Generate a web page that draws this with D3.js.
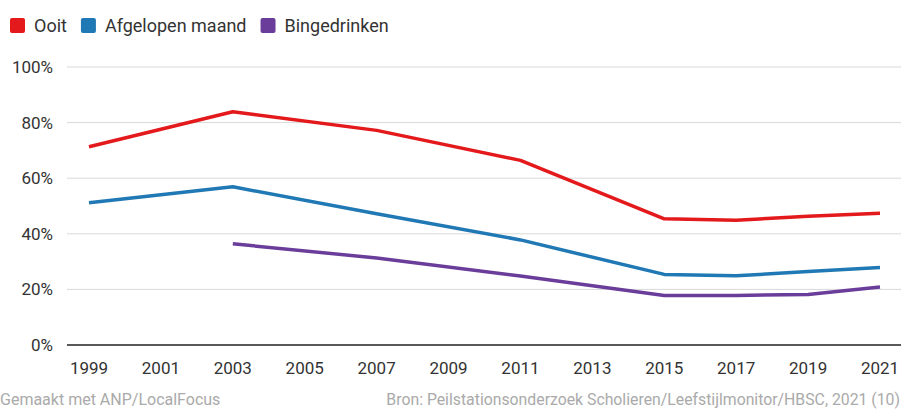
<!DOCTYPE html>
<html>
<head>
<meta charset="utf-8">
<script src="https://cdn.jsdelivr.net/npm/d3@7"></script>
<style>
  body { margin: 0; background: #fff; }
  text { font-family: Roboto, "Noto Sans", sans-serif; }
</style>
</head>
<body>
<div id="chart"></div>
<script>
var years = [1999, 2003, 2007, 2011, 2015, 2017, 2019, 2021];
var ooit = [71.3, 83.9, 77.2, 66.4, 45.4, 44.9, 46.3, 47.4];
var afgelopenMaand = [51.2, 56.9, 47.2, 37.8, 25.4, 24.9, 26.4, 27.9];
var bingedrinken = [null, 36.4, 31.3, 24.8, 17.8, 17.8, 18.2, 20.9];
var seriesNames = ['Ooit', 'Afgelopen maand', 'Bingedrinken'];
var colors = ['#e3191c', '#2079b4', '#6a3d9a'];
var yTicks = [0, 20, 40, 60, 80, 100];
var xTicks = [1999, 2001, 2003, 2005, 2007, 2009, 2011, 2013, 2015, 2017, 2019, 2021];

var W = 902, H = 410;
var svg = d3.select('#chart').append('svg').attr('width', W).attr('height', H);

var x = d3.scaleLinear().domain([1999, 2021]).range([89, 880]);
var y = d3.scaleLinear().domain([0, 100]).range([345, 67]);

// legend
var lg = svg.append('g');
var lx = 10;
seriesNames.forEach(function(name, i) {
  lg.append('rect').attr('x', lx).attr('y', 18).attr('width', 15).attr('height', 15)
    .attr('rx', 2).attr('fill', colors[i]);
  var t = lg.append('text').attr('x', lx + 24).attr('y', 32).attr('font-size', 18)
    .attr('fill', '#333').text(name);
  lx += 24 + t.node().getComputedTextLength() + 14;
});

// grid
svg.append('g').selectAll('line').data(yTicks.filter(function(d) { return d > 0; })).enter()
  .append('line').attr('x1', 67).attr('x2', 901)
  .attr('y1', function(d) { return y(d); }).attr('y2', function(d) { return y(d); })
  .attr('stroke', '#d9d9d9').attr('stroke-width', 1);
svg.append('line').attr('x1', 67).attr('x2', 901).attr('y1', y(0)).attr('y2', y(0))
  .attr('stroke', '#222').attr('stroke-width', 1.5);

// y labels
svg.append('g').selectAll('text').data(yTicks).enter().append('text')
  .attr('x', 53).attr('y', function(d) { return y(d) + 6; })
  .attr('text-anchor', 'end').attr('font-size', 17).attr('fill', '#333')
  .text(function(d) { return d + '%'; });

// x labels
svg.append('g').selectAll('text').data(xTicks).enter().append('text')
  .attr('x', function(d) { return x(d); }).attr('y', 374)
  .attr('text-anchor', 'middle').attr('font-size', 17).attr('fill', '#333')
  .text(function(d) { return d; });

// lines
var line = d3.line()
  .defined(function(d) { return d.v != null; })
  .x(function(d) { return x(d.year); })
  .y(function(d) { return y(d.v); });
[ooit, afgelopenMaand, bingedrinken].forEach(function(vals, i) {
  var data = years.map(function(yr, j) { return { year: yr, v: vals[j] }; });
  svg.append('path').datum(data).attr('d', line)
    .attr('fill', 'none').attr('stroke', colors[i]).attr('stroke-width', 3.5)
    .attr('stroke-linejoin', 'round');
});

// footer
svg.append('text').attr('x', 0).attr('y', 405).attr('font-size', 16).attr('fill', '#aaa')
  .text('Gemaakt met ANP/LocalFocus');
svg.append('text').attr('x', 900).attr('y', 405).attr('text-anchor', 'end')
  .attr('font-size', 15.8).attr('fill', '#aaa')
  .text('Bron: Peilstationsonderzoek Scholieren/Leefstijlmonitor/HBSC, 2021 (10)');
</script>
</body>
</html>
